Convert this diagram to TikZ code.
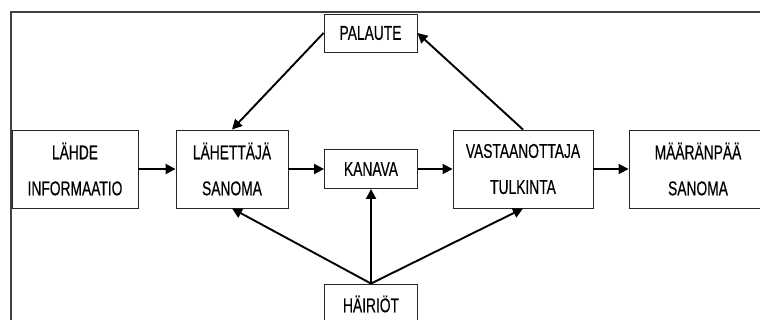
\documentclass[tikz,border=0pt]{standalone}
\usepackage{fontspec}
\setmainfont[FakeStretch=0.69,FakeBold=0.4]{Liberation Sans}
\usetikzlibrary{arrows.meta}
\begin{document}
\begin{tikzpicture}[x=1pt,y=-1pt,
  box/.style={draw=black!85,line width=0.9pt,rectangle,inner sep=0pt,
    align=center,font=\fontsize{20}{36}\selectfont},
  flow/.style={line width=1.9pt,-{Triangle[length=10pt,width=10pt]}}]
\useasboundingbox (0,0) rectangle (760,320);
\begin{scope}
\clip (0,0) rectangle (760,320);
% outer frame
\draw[black!75,line width=1.6pt] (11,340) -- (11,12) -- (780,12);
% boxes
\node[box,minimum width=93pt,minimum height=38pt] (palaute) at (370.5,33) {PALAUTE};
\node[box,minimum width=126pt,minimum height=78pt] (lahde) at (75,169) {LÄHDE\\INFORMAATIO};
\node[box,minimum width=112pt,minimum height=78pt] (lahettaja) at (232,169) {LÄHETTÄJÄ\\SANOMA};
\node[box,minimum width=93pt,minimum height=39pt] (kanava) at (371,169) {KANAVA};
\node[box,minimum width=140pt,minimum height=78pt] (vast) at (523,169) {VASTAANOTTAJA\\TULKINTA};
\node[box,minimum width=138pt,minimum height=78pt] (maara) at (698,169) {MÄÄRÄNPÄÄ\\SANOMA};
\node[box,minimum width=93pt,minimum height=40pt] (hairiot) at (371,304) {HÄIRIÖT};
% connectors
\draw[flow] (lahde.east) -- (lahettaja.west);
\draw[flow] (lahettaja.east) -- (kanava.west);
\draw[flow] (kanava.east) -- (vast.west);
\draw[flow] (vast.east) -- (maara.west);
\draw[flow] (palaute.west) -- (lahettaja.north);
\draw[flow] (vast.north) -- (palaute.east);
\draw[flow] (hairiot.north) -- (lahettaja.south);
\draw[flow] (hairiot.north) -- (kanava.south);
\draw[flow] (hairiot.north) -- (vast.south);
\end{scope}
\end{tikzpicture}
\end{document}
